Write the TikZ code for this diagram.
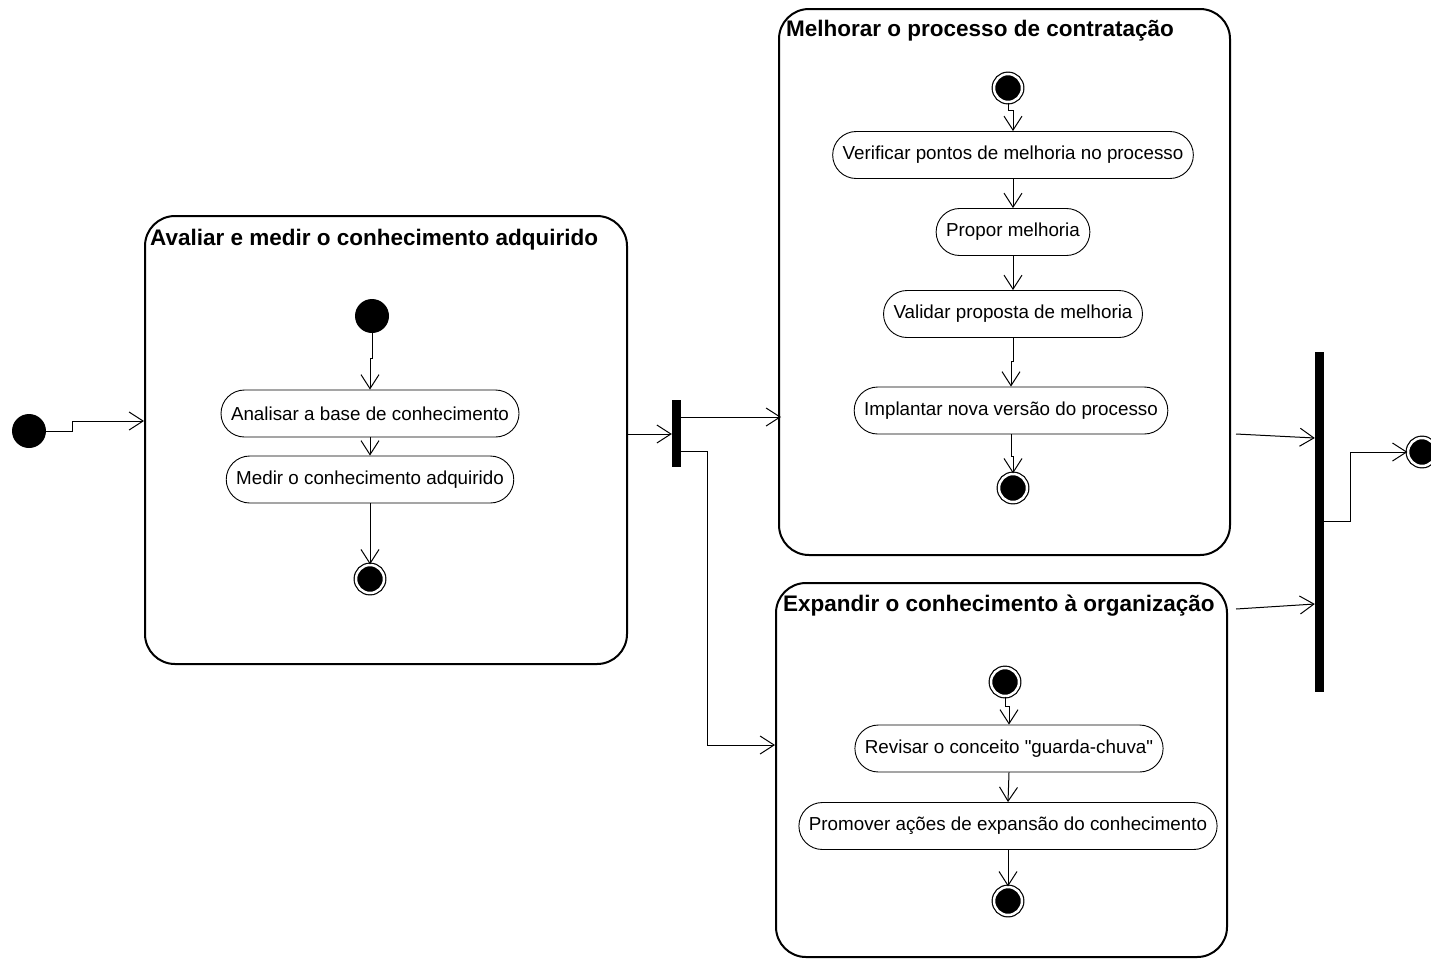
\documentclass[tikz,border=0pt]{standalone}
\usepackage{fontspec}
\setmainfont{Liberation Sans}
% plain family: keeps straight quote characters as typed
\newfontfamily\diagfont{Liberation Sans}
\usetikzlibrary{arrows.meta,calc}

\tikzset{
  composite/.style={draw, line width=2pt, rounded corners=30pt, inner sep=0pt},
  ctitle/.style={font=\diagfont\fontsize{22.5}{26}\selectfont\bfseries, anchor=base west, inner sep=0pt},
  activity/.style={draw, line width=0.9pt, rounded corners=23.5pt, minimum height=47pt,
    inner xsep=10pt, inner ysep=0pt, font=\diagfont\fontsize{18.8}{22}\selectfont},
  startnode/.style={circle, fill=black, minimum size=34pt, inner sep=0pt},
  endnode/.style={circle, fill=black, draw=black, double=white, double distance=2.5pt,
    line width=1.2pt, minimum size=28pt, inner sep=0pt},
  bar/.style={fill=black, inner sep=0pt, minimum width=9pt},
  flow/.style={line width=1pt, -{Straight Barb[length=14pt,width=18pt]}},
}

\begin{document}
\begin{tikzpicture}[x=1pt,y=-1pt]
\useasboundingbox (0,0) rectangle (1431,959);

% composite activities
\node[composite, minimum width=482pt, minimum height=448pt] (avaliar) at (386,440) {};
\node[ctitle] at (150,245) {Avaliar e medir o conhecimento adquirido};

\node[composite, minimum width=451pt, minimum height=546pt] (melhorar) at (1004.5,282) {};
\node[ctitle] at (786,36) {Melhorar o processo de contratação};

\node[composite, minimum width=451pt, minimum height=374pt] (expandir) at (1001.5,770) {};
\node[ctitle] at (783,611) {Expandir o conhecimento à organização};

% outer flow
\node[startnode] (init) at (29,431) {};
\node[bar, minimum height=67pt] (fork) at (676.5,433.5) {};
\node[bar, minimum height=340pt] (join) at (1319.5,522) {};
\node[endnode] (fin) at (1422,452) {};

% Avaliar e medir
\node[startnode] (a0) at (372,316) {};
\node[activity] (a1) at (370,413.5) {Analisar a base de conhecimento};
\node[activity] (a2) at (370,479.5) {Medir o conhecimento adquirido};
\node[endnode] (a3) at (370,579) {};

% Melhorar o processo
\node[endnode] (m0) at (1008,88) {};
\node[activity] (m1) at (1013,155) {Verificar pontos de melhoria no processo};
\node[activity] (m2) at (1013,232) {Propor melhoria};
\node[activity] (m3) at (1013,314) {Validar proposta de melhoria};
\node[activity] (m4) at (1011,410.5) {Implantar nova versão do processo};
\node[endnode] (m5) at (1013,488) {};

% Expandir o conhecimento
\node[endnode] (e0) at (1005,682) {};
\node[activity] (e1) at (1009,748.5) {Revisar o conceito "guarda-chuva"};
\node[activity] (e2) at (1008,826) {Promover ações de expansão do conhecimento};
\node[endnode] (e3) at (1008,901) {};

% inner connectors
\draw[flow] (a0.south) -- ++(0,25) -- ++(-2,0) -- (a1.north);
\draw[flow] (a1.south) -- (a2.north);
\draw[flow] (a2.south) -- (a3.north);

\draw[flow] (m0.south) -- ++(0,8) -- ++(5,0) -- (m1.north);
\draw[flow] (m1.south) -- (m2.north);
\draw[flow] (m2.south) -- (m3.north);
\draw[flow] (m3.south) -- ++(0,24) -- ++(-2,0) -- (m4.north);
\draw[flow] (m4.south) -- ++(0,22) -- ++(2,0) -- (m5.north);

\draw[flow] (e0.south) -- ++(0,10) -- ++(4,0) -- (e1.north);
\draw[flow] (e1.south) -- (e2.north);
\draw[flow] (e2.south) -- (e3.north);

% outer connectors
\draw[flow] (init.east) -- (72,431) -- (72,421) -- (avaliar.west |- 0,421);
\draw[flow] (avaliar.east |- 0,434) -- (fork.west |- 0,434);
\draw[flow] (fork.east |- 0,417) -- ($(melhorar.west |- 0,417)+(3,0)$);
\draw[flow] (fork.east |- 0,451) -- (707,451) -- (707,745) -- (expandir.west |- 0,745);
\draw[flow] ($(melhorar.east |- 0,434)+(5,0)$) -- (join.west |- 0,438);
\draw[flow] ($(expandir.east |- 0,609)+(8,0)$) -- (join.west |- 0,604);
\draw[flow] (join.east |- 0,521) -- (1350,521) -- (1350,452) -- (fin.west);
\end{tikzpicture}
\end{document}
